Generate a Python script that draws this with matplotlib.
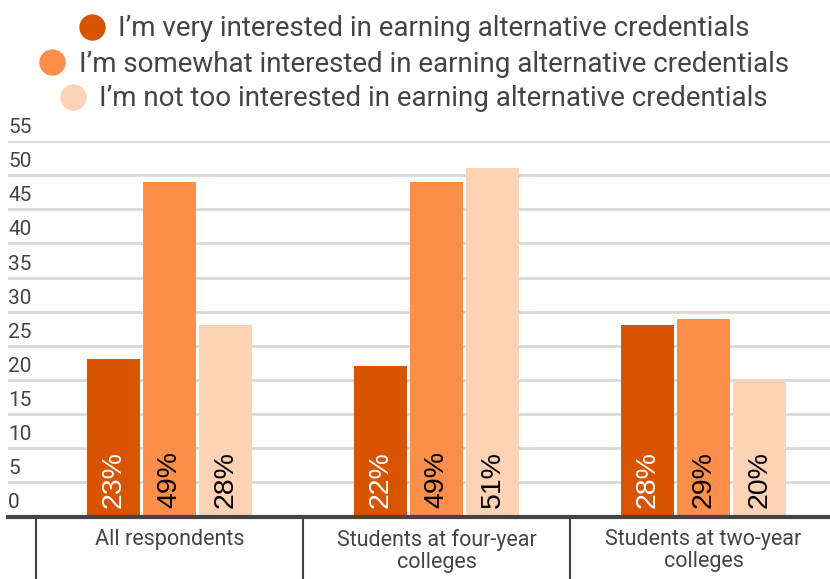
import matplotlib
matplotlib.use("Agg")
import matplotlib.pyplot as plt
from matplotlib.lines import Line2D
import numpy as np

plt.rcParams['font.family'] = ['Roboto', 'DejaVu Sans']

# survey shares (percent)
groups = ["All respondents", "Students at four-year\ncolleges", "Students at two-year\ncolleges"]
series_names = [
    "I\u2019m very interested in earning alternative credentials",
    "I\u2019m somewhat interested in earning alternative credentials",
    "I\u2019m not too interested in earning alternative credentials",
]
very = [23, 22, 28]
somewhat = [49, 49, 29]
not_too = [28, 51, 20]
yticks = [0, 5, 10, 15, 20, 25, 30, 35, 40, 45, 50, 55]

colors = ["#D95400", "#FD8F4A", "#FED2B5"]
label_colors = ["white", "black", "black"]
grey = "#444444"

W, H = 830, 579
fig = plt.figure(figsize=(W / 100, H / 100), dpi=100)
ax = fig.add_axes([8 / W, (H - 516.5) / H, (W - 8) / W, (516.5 - 141) / H])

ax.set_ylim(0, 55)
# category slots are 267 px wide, first divider at x=36
unit = 267.0
ax.set_xlim(-0.5 - 28 / unit, -0.5 + (W - 36) / unit)

x = np.arange(len(groups))
offsets = [-0.21, 0.0, 0.21]
width = 0.198
for vals, off, col, lc in zip([very, somewhat, not_too], offsets, colors, label_colors):
    bars = ax.bar(x + off, vals, width=width, color=col, zorder=3)
    for b, v in zip(bars, vals):
        ax.annotate(f"{v}%", xy=(b.get_x() + b.get_width() / 2, 0),
                    xytext=(0, 8), textcoords="offset pixels",
                    rotation=90, ha="center", va="bottom",
                    fontsize=20.5, color=lc, family="Liberation Sans", zorder=4)

# horizontal gridlines and tick labels sitting above them
for t in yticks[1:]:
    ax.axhline(t, color="#D9D9D9", lw=2, zorder=1)
for t in yticks:
    ax.annotate(str(t), xy=(0, t), xycoords=("axes fraction", "data"),
                xytext=(0, 4), textcoords="offset pixels",
                ha="left", va="bottom", fontsize=15, color=grey)

ax.axhline(0, color=grey, lw=3, zorder=5, clip_on=False)

for s in ax.spines.values():
    s.set_visible(False)
ax.set_xticks([])
ax.set_yticks([])

# category dividers below the axis and group labels
for i in range(len(groups)):
    ax.plot([i - 0.5, i - 0.5], [0, -10], color=grey, lw=1.5, clip_on=False)
    ax.text(i, -1.9, groups[i], ha="center", va="top", fontsize=15.5,
            color=grey, linespacing=1.05)

# one centred legend row per series
legend_y = [1 - 29 / H, 1 - 64 / H, 1 - 99 / H]
for name, col, ly in zip(series_names, colors, legend_y):
    h = Line2D([], [], marker="o", color=col, linestyle="none", markersize=18)
    leg = fig.legend(handles=[h], labels=[name], loc="center",
                     bbox_to_anchor=(0.5, ly), frameon=False, fontsize=20,
                     handlelength=0.8, handletextpad=0.55, borderpad=0,
                     labelcolor=grey)

fig.savefig("out.png", dpi=100)
